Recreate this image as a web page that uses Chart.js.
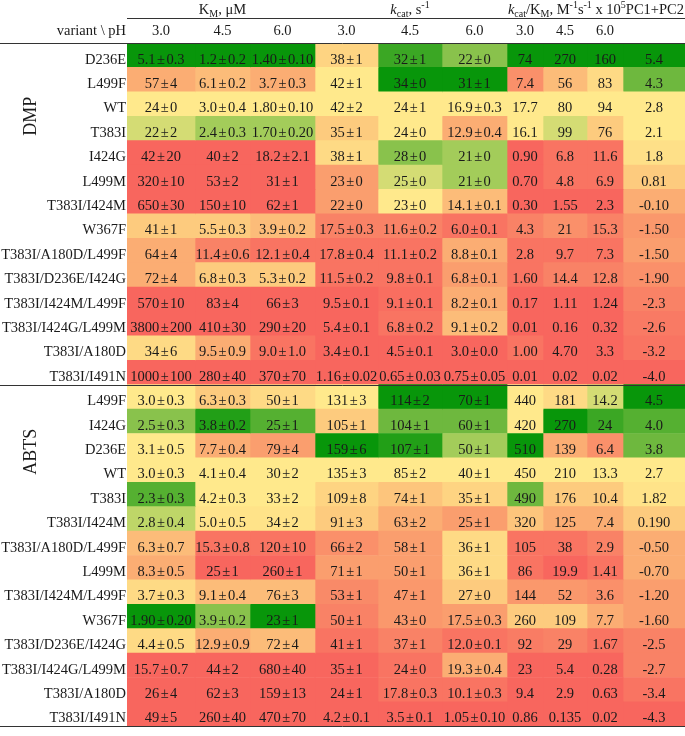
<!DOCTYPE html>
<html>
<head>
<meta charset="utf-8">
<script src="https://cdn.jsdelivr.net/npm/chart.js@4.4.0/dist/chart.umd.min.js"></script>
<style>
  html, body { margin: 0; padding: 0; background: #fff; }
</style>
</head>
<body>
<canvas id="myChart" width="685" height="736"></canvas>
<script>
// variantes, en el orden de la tabla
const dmpVariants = ["D236E", "L499F", "WT", "T383I", "I424G", "L499M", "T383I/I424M", "W367F",
  "T383I/A180D/L499F", "T383I/D236E/I424G", "T383I/I424M/L499F", "T383I/I424G/L499M", "T383I/A180D", "T383I/I491N"];
const abtsVariants = ["L499F", "I424G", "D236E", "WT", "T383I", "T383I/I424M", "T383I/A180D/L499F", "L499M",
  "T383I/I424M/L499F", "W367F", "T383I/D236E/I424G", "T383I/I424G/L499M", "T383I/A180D", "T383I/I491N"];
const phLabels = ["3.0", "4.5", "6.0"];

// DMP: valores por fila (pH 3.0, 4.5, 6.0)
const dmpKm = [
  ["5.1±0.3", "1.2±0.2", "1.40±0.10"], ["57±4", "6.1±0.2", "3.7±0.3"], ["24±0", "3.0±0.4", "1.80±0.10"],
  ["22±2", "2.4±0.3", "1.70±0.20"], ["42±20", "40±2", "18.2±2.1"], ["320±10", "53±2", "31±1"],
  ["650±30", "150±10", "62±1"], ["41±1", "5.5±0.3", "3.9±0.2"], ["64±4", "11.4±0.6", "12.1±0.4"],
  ["72±4", "6.8±0.3", "5.3±0.2"], ["570±10", "83±4", "66±3"], ["3800±200", "410±30", "290±20"],
  ["34±6", "9.5±0.9", "9.0±1.0"], ["1000±100", "280±40", "370±70"]
];
const dmpKcat = [
  ["38±1", "32±1", "22±0"], ["42±1", "34±0", "31±1"], ["42±2", "24±1", "16.9±0.3"],
  ["35±1", "24±0", "12.9±0.4"], ["38±1", "28±0", "21±0"], ["23±0", "25±0", "21±0"],
  ["22±0", "23±0", "14.1±0.1"], ["17.5±0.3", "11.6±0.2", "6.0±0.1"], ["17.8±0.4", "11.1±0.2", "8.8±0.1"],
  ["11.5±0.2", "9.8±0.1", "6.8±0.1"], ["9.5±0.1", "9.1±0.1", "8.2±0.1"], ["5.4±0.1", "6.8±0.2", "9.1±0.2"],
  ["3.4±0.1", "4.5±0.1", "3.0±0.0"], ["1.16±0.02", "0.65±0.03", "0.75±0.05"]
];
const dmpRatio = [
  ["74", "270", "160"], ["7.4", "56", "83"], ["17.7", "80", "94"], ["16.1", "99", "76"],
  ["0.90", "6.8", "11.6"], ["0.70", "4.8", "6.9"], ["0.30", "1.55", "2.3"], ["4.3", "21", "15.3"],
  ["2.8", "9.7", "7.3"], ["1.60", "14.4", "12.8"], ["0.17", "1.11", "1.24"], ["0.01", "0.16", "0.32"],
  ["1.00", "4.70", "3.3"], ["0.01", "0.02", "0.02"]
];
const dmpPc = ["5.4", "4.3", "2.8", "2.1", "1.8", "0.81", "-0.10", "-1.50", "-1.50", "-1.90", "-2.3", "-2.6", "-3.2", "-4.0"];

// ABTS
const abtsKm = [
  ["3.0±0.3", "6.3±0.3", "50±1"], ["2.5±0.3", "3.8±0.2", "25±1"], ["3.1±0.5", "7.7±0.4", "79±4"],
  ["3.0±0.3", "4.1±0.4", "30±2"], ["2.3±0.3", "4.2±0.3", "33±2"], ["2.8±0.4", "5.0±0.5", "34±2"],
  ["6.3±0.7", "15.3±0.8", "120±10"], ["8.3±0.5", "25±1", "260±1"], ["3.7±0.3", "9.1±0.4", "76±3"],
  ["1.90±0.20", "3.9±0.2", "23±1"], ["4.4±0.5", "12.9±0.9", "72±4"], ["15.7±0.7", "44±2", "680±40"],
  ["26±4", "62±3", "159±13"], ["49±5", "260±40", "470±70"]
];
const abtsKcat = [
  ["131±3", "114±2", "70±1"], ["105±1", "104±1", "60±1"], ["159±6", "107±1", "50±1"],
  ["135±3", "85±2", "40±1"], ["109±8", "74±1", "35±1"], ["91±3", "63±2", "25±1"],
  ["66±2", "58±1", "36±1"], ["71±1", "50±1", "36±1"], ["53±1", "47±1", "27±0"],
  ["50±1", "43±0", "17.5±0.3"], ["41±1", "37±1", "12.0±0.1"], ["35±1", "24±0", "19.3±0.4"],
  ["24±1", "17.8±0.3", "10.1±0.3"], ["4.2±0.1", "3.5±0.1", "1.05±0.10"]
];
const abtsRatio = [
  ["440", "181", "14.2"], ["420", "270", "24"], ["510", "139", "6.4"], ["450", "210", "13.3"],
  ["490", "176", "10.4"], ["320", "125", "7.4"], ["105", "38", "2.9"], ["86", "19.9", "1.41"],
  ["144", "52", "3.6"], ["260", "109", "7.7"], ["92", "29", "1.67"], ["23", "5.4", "0.28"],
  ["9.4", "2.9", "0.63"], ["0.86", "0.135", "0.02"]
];
const abtsPc = ["4.5", "4.0", "3.8", "2.7", "1.82", "0.190", "-0.50", "-0.70", "-1.20", "-1.60", "-2.5", "-2.7", "-3.4", "-4.3"];

// nivel de color de cada celda: 0 = rojo, 5 = amarillo, 10 = verde
const dmpKmHeat = [[10,10,10],[3,3.5,3],[5,5,5],[6,7,7],[0.5,0.5,0.5],[0.5,0.5,0.5],[0.5,0.5,0.5],
  [4,4,3.5],[3,1.5,1],[3,4,4],[0.5,0.5,0.5],[0.5,0.5,0.5],[4.5,3,1],[0.5,0.5,0.5]];
const dmpKcatHeat = [[4.3,9,7.5],[5,10,10],[5,5,5],[4,5,3],[4.5,7.5,7],[2.5,6,7],[2.5,5,3.5],
  [1.5,1.5,1],[1,1,3],[1,1,2.5],[0.5,0.8,3],[0.5,1,3.5],[0.5,0.5,0.5],[0.5,0.5,0.5]];
const dmpRatioHeat = [[10,10,10],[2,3.5,4.5],[5,5,5],[5,6,4],[0.5,1,1],[0.5,1,1],[0.5,0.5,0.5],
  [1.5,2,1.5],[1,1,1],[1,1.5,1.5],[0.5,0.5,0.5],[0.5,0.5,0.5],[1,0.5,0.5],[0.5,0.5,0.5]];
const dmpPcHeat = [10, 8, 5, 5, 4.7, 4, 3, 2.3, 2.5, 2, 1.5, 1.2, 1, 0.5];

const abtsKmHeat = [[5,4,4.5],[7.5,9.5,8.5],[5,3,2.5],[5,5,5],[8.5,5,5],[6.5,4.8,4.8],[3.5,1,1],
  [3,0.5,0.5],[4.5,3.5,3.5],[10,7.5,10],[4.5,3,3.5],[0.5,0.5,0.5],[0.5,0.5,0.5],[0.5,0.5,0.5]];
const abtsKcatHeat = [[5,10,10],[4,8,8],[10,9.5,7],[5,5,5],[4.3,3.8,4.3],[4,3,2.5],[2,2.5,4.5],
  [2.5,2.5,4.5],[1.8,2.3,4],[1.5,2.3,2.5],[1,1.5,1],[0.5,1,3],[0.5,1,1],[0.5,0.5,0.5]];
const abtsRatioHeat = [[5,4.5,6],[5,10,9],[10,3,2],[5,5,5],[8,4,4],[3.8,3,3],[1,1,1.5],
  [1,0.5,1],[2.3,2.3,2],[4,4,3],[1.3,1.5,1],[0.5,0.5,0.5],[0.5,0.5,0.5],[0.5,0.5,0.5]];
const abtsPcHeat = [10, 8.5, 8, 5, 4.8, 4, 3, 3, 2.5, 2.5, 1.5, 1.5, 1, 0.5];

// ---- maquetación ----
const FONT = '"Liberation Serif", "Times New Roman", serif';
const colEdges = [0, 68, 123, 188, 251, 315, 380, 416, 460, 496, 558];   // bordes de columna (unidades del eje x)
const colorStops = [
  [0, [248, 88, 90]], [2.5, [250, 158, 110]], [4, [253, 203, 126]], [5, [255, 233, 140]],
  [6.5, [190, 214, 104]], [8, [110, 184, 62]], [10, [8, 150, 10]]
];

function levelColor(l) {
  for (let i = 1; i < colorStops.length; i++) {
    const [l1, c1] = colorStops[i];
    const [l0, c0] = colorStops[i - 1];
    if (l <= l1) {
      const t = (l - l0) / (l1 - l0);
      const c = c0.map((v, k) => Math.round(v + (c1[k] - v) * t));
      return `rgb(${c[0]},${c[1]},${c[2]})`;
    }
  }
  const c = colorStops[colorStops.length - 1][1];
  return `rgb(${c[0]},${c[1]},${c[2]})`;
}

const rowLabels = dmpVariants.concat(abtsVariants);
const columnTexts = [];
const columnHeat = [];
[[dmpKm, abtsKm, dmpKmHeat, abtsKmHeat], [dmpKcat, abtsKcat, dmpKcatHeat, abtsKcatHeat],
 [dmpRatio, abtsRatio, dmpRatioHeat, abtsRatioHeat]].forEach(([a, b, ha, hb]) => {
  for (let k = 0; k < 3; k++) {
    columnTexts.push(a.map(r => r[k]).concat(b.map(r => r[k])));
    columnHeat.push(ha.map(r => r[k]).concat(hb.map(r => r[k])));
  }
});
columnTexts.push(dmpPc.concat(abtsPc));
columnHeat.push(dmpPcHeat.concat(abtsPcHeat));

const datasets = columnTexts.map((texts, c) => ({
  data: rowLabels.map(() => [colEdges[c], colEdges[c + 1]]),
  backgroundColor: columnHeat[c].map(levelColor),
  borderWidth: 0,
  borderSkipped: false,
  barPercentage: 1,
  categoryPercentage: 1,
  grouped: false,
  texts: texts
}));

const TEXT_DROP = 4.5;   // el texto está algo por debajo del centro de la celda

function drawRuns(ctx, runs, x, y, align) {
  const fontFor = s => (s === "i" ? "italic " : "") + ((s === "sub" || s === "sup") ? 10 : 14.5) + "px " + FONT;
  let w = 0;
  runs.forEach(r => { ctx.font = fontFor(r[1]); w += ctx.measureText(r[0]).width; });
  let cx = align === "right" ? x - w : align === "center" ? x - w / 2 : x;
  ctx.textAlign = "left";
  runs.forEach(r => {
    ctx.font = fontFor(r[1]);
    const dy = r[1] === "sub" ? 4 : r[1] === "sup" ? -5 : 0;
    ctx.fillText(r[0], cx, y + dy);
    cx += ctx.measureText(r[0]).width;
  });
}

const tablePlugin = {
  id: "tabla",
  afterDatasetsDraw(chart) {
    const ctx = chart.ctx;
    ctx.save();
    ctx.fillStyle = "#1a1a1a";
    ctx.textBaseline = "middle";
    ctx.font = "14.5px " + FONT;
    chart.data.datasets.forEach((ds, i) => {
      chart.getDatasetMeta(i).data.forEach((bar, j) => {
        const cx = (bar.x + bar.base) / 2;
        const cy = bar.y + TEXT_DROP;
        const parts = ds.texts[j].split("±");
        if (parts.length === 1) {
          ctx.textAlign = "center";
          ctx.fillText(parts[0], cx, cy);
        } else {
          const gap = 1.5;
          const w0 = ctx.measureText(parts[0]).width;
          const wp = ctx.measureText("±").width;
          const w1 = ctx.measureText(parts[1]).width;
          let x = cx - (w0 + wp + w1 + 2 * gap) / 2;
          ctx.textAlign = "left";
          ctx.fillText(parts[0], x, cy); x += w0 + gap;
          ctx.fillText("±", x, cy); x += wp + gap;
          ctx.fillText(parts[1], x, cy);
        }
      });
    });
    ctx.restore();
  },
  afterDraw(chart) {
    const ctx = chart.ctx;
    const area = chart.chartArea;
    const xs = chart.scales.x;
    const ys = chart.scales.y;
    const colX = c => xs.getPixelForValue(colEdges[c]);
    const colMid = c => (colX(c) + colX(c + 1)) / 2;
    ctx.save();

    // líneas
    ctx.strokeStyle = "#333";
    ctx.lineWidth = 1;
    const sepY = (ys.getPixelForValue(13) + ys.getPixelForValue(14)) / 2;
    [[area.left, 17.5, chart.width], [0, area.top, chart.width], [0, sepY, chart.width], [0, area.bottom, chart.width]]
      .forEach(([x0, y, x1]) => {
        ctx.beginPath(); ctx.moveTo(x0, Math.round(y) + 0.5); ctx.lineTo(x1, Math.round(y) + 0.5); ctx.stroke();
      });

    // encabezados
    ctx.fillStyle = "#1a1a1a";
    ctx.textBaseline = "middle";
    drawRuns(ctx, [["K", ""], ["M", "sub"], [", \u03bcM", ""]], colMid(1), 10, "center");
    drawRuns(ctx, [["k", "i"], ["cat", "sub"], [", s", ""], ["-1", "sup"]], colMid(4), 10, "center");
    drawRuns(ctx, [["k", "i"], ["cat", "sub"], ["/K", ""], ["M", "sub"], [", M", ""], ["-1", "sup"], ["s", ""], ["-1", "sup"],
      [" x 10", ""], ["5", "sup"], ["PC1+PC2", ""]], chart.width - 1, 10, "right");
    drawRuns(ctx, [["variant \\ pH", ""]], area.left - 1, 31, "right");
    for (let c = 0; c < 9; c++) {
      drawRuns(ctx, [[phLabels[c % 3], ""]], colMid(c), 31, "center");
    }

    // sustratos
    ctx.font = "18px " + FONT;
    ctx.textAlign = "center";
    [["DMP", 2.5], ["ABTS", 16.25]].forEach(([t, v]) => {
      ctx.save();
      ctx.translate(31, ys.getPixelForValue(v));
      ctx.rotate(-Math.PI / 2);
      ctx.fillText(t, 0, 0);
      ctx.restore();
    });
    ctx.restore();
  }
};

new Chart(document.getElementById("myChart").getContext("2d"), {
  type: "bar",
  data: { labels: rowLabels, datasets: datasets },
  options: {
    indexAxis: "y",
    responsive: false,
    animation: false,
    layout: { padding: { top: 43, bottom: 3, left: 0, right: 0 } },
    scales: {
      x: { type: "linear", min: colEdges[0], max: colEdges[colEdges.length - 1], display: false },
      y: {
        type: "category",
        offset: true,
        grid: { display: false, drawTicks: false },
        border: { display: false },
        ticks: {
          autoSkip: false,
          color: "#1a1a1a",
          padding: 1,
          labelOffset: TEXT_DROP,
          font: { family: FONT, size: 14.5 }
        },
        afterFit: s => { s.width = 127; }
      }
    },
    plugins: {
      legend: { display: false },
      tooltip: { enabled: false }
    }
  },
  plugins: [tablePlugin]
});
</script>
</body>
</html>
